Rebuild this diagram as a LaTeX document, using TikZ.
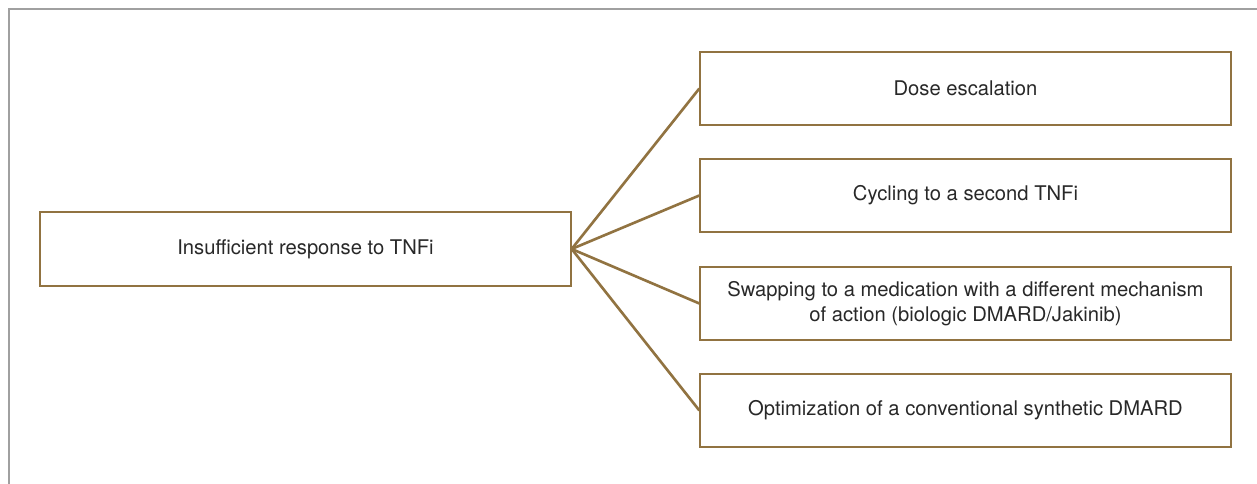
\documentclass[tikz,border=0pt]{standalone}
\usepackage{fontspec}
\setmainfont{TeX Gyre Heros}
\usetikzlibrary{positioning}
\definecolor{boxGold}{RGB}{145,115,65}
\definecolor{frameGray}{RGB}{160,160,160}
\definecolor{txtGray}{RGB}{40,40,40}

\begin{document}
\begin{tikzpicture}[
    option/.style={draw=boxGold, line width=0.75pt, minimum width=10.62cm,
      minimum height=1.46cm, inner sep=0pt, align=center, text=txtGray,
      font=\fontsize{11.5}{14.2}\selectfont},
    branch/.style={boxGold, line width=1.5pt}
  ]
    \useasboundingbox (0,0) rectangle (25.14,9.68);
    % panel frame, only top and left edges are visible
    \draw[frameGray, line width=0.6pt] (25.14,9.5) -- (0.18,9.5) -- (0.18,0);
    % starting point
    \node[option, minimum height=1.48cm] (resp) at (6.11,4.70) {Insufficient response to TNFi};
    % the four options
    \node[option] (dose)  at (19.31,7.91) {Dose escalation};
    \node[option] (cycle) at (19.31,5.77) {Cycling to a second TNFi};
    \node[option] (swap)  at (19.31,3.61) {Swapping to a medication with a different mechanism\\of action (biologic DMARD/Jakinib)};
    \node[option] (optim) at (19.31,1.47) {Optimization of a conventional synthetic DMARD};
    % branches
    \foreach \t in {dose,cycle,swap,optim}
      \draw[branch] (resp.east) -- (\t.west);
\end{tikzpicture}
\end{document}
